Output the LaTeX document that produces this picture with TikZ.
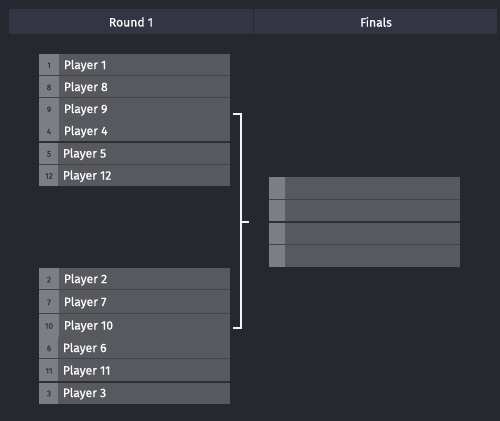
\documentclass[tikz,border=0pt]{standalone}
\usepackage{fontspec}
\setmainfont{Fira Sans}[FakeBold=0.9]
\definecolor{page}{HTML}{262830}
\definecolor{headbar}{HTML}{333545}
\definecolor{slotgrey}{HTML}{58595E}
\definecolor{seedgrey}{HTML}{7D7E83}
\definecolor{seedtext}{HTML}{34353B}
\definecolor{thinline}{HTML}{43444A}
\definecolor{thickline}{HTML}{2E2F35}
\tikzset{roundtitle/.style={text=white, font=\fontsize{6.9}{8}\selectfont, inner sep=0pt},
	playername/.style={text=white, font=\fontsize{6.9}{8}\selectfont, anchor=west, inner sep=0pt},
	seednum/.style={text=seedtext, font=\fontsize{4.6}{5}\selectfont, inner sep=0pt},
	bracket/.style={draw=white!95!page, line width=0.04cm},
	split/.style={draw=thinline, line width=0.02cm},
	gap/.style={draw=thickline, line width=0.03cm}}
\begin{document}
\begin{tikzpicture}[x=0.02cm, y=-0.02cm]
		\fill[page] (0,0) rectangle (500,421);
		\useasboundingbox (0,0) rectangle (500,421);
		% header
		\fill[headbar] (9,9) rectangle (253,34);
		\fill[headbar] (254,9) rectangle (497,34);
		\node[roundtitle] (round) at (131,22) {Round 1};
		\node[roundtitle] (finals) at (376,22) {Finals};
		% first round slots
		\foreach \s/\n/\t/\b/\k/\w in {1/Player 1/54/76/p1/59, 8/Player 8/76/98/p8/59,
			9/Player 9/98/120/p9/59, 4/Player 4/120/142/p4/59, 5/Player 5/142/165/p5/58,
			12/Player 12/165/186/p12/58, 2/Player 2/268/290/p2/59, 7/Player 7/290/314/p7/59,
			10/Player 10/314/337/p10/59, 6/Player 6/337/359/p6/58, 11/Player 11/359/382/p11/58,
			3/Player 3/382/404/p3/58} {
			\fill[slotgrey] (39,\t) rectangle (230,\b);
			\fill[seedgrey] (39,\t) rectangle (\w,\b);
			\node[seednum] (s\k) at (49,{(\t+\b)/2+0.5}) {\s};
			\node[playername] (\k) at ({\w+4.5},{(\t+\b)/2+0.8}) {\n};
		}
		\foreach \y in {76,98,165,290,314,359}
			\draw[split] (39,\y) -- (230,\y);
		\foreach \y in {142,382}
			\draw[gap] (39,\y) -- (230,\y);
		% finals slots
		\fill[slotgrey] (269,177) rectangle (460,267);
		\fill[seedgrey] (269,177) rectangle (285,267);
		\foreach \y in {199.5,244.5}
			\draw[split] (269,\y) -- (460,\y);
		\draw[gap] (269,222) -- (460,222);
		% bracket
		\coordinate (upper) at (241,114);
		\coordinate (lower) at (241,328);
		\coordinate (upper end) at (233,114);
		\coordinate (lower end) at (233,328);
		\coordinate (join) at (241,222);
		\coordinate (final) at (249,222);
		\draw[bracket] (upper end) -- (upper) -- (lower) -- (lower end);
		\draw[bracket] (join) -- (final);
		\end{tikzpicture}
\end{document}
